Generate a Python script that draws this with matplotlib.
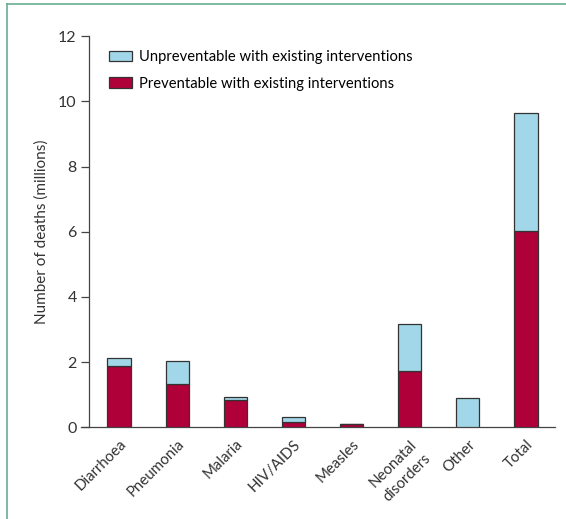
import matplotlib
matplotlib.use("Agg")
import matplotlib.pyplot as plt
from matplotlib.lines import Line2D
from matplotlib.patches import Patch
import numpy as np

CATEGORIES = ["Diarrhoea", "Pneumonia", "Malaria", "HIV/AIDS", "Measles",
              "Neonatal\ndisorders", "Other", "Total"]
PREVENTABLE = [1.88, 1.32, 0.84, 0.15, 0.11, 1.73, 0.0, 6.03]
UNPREVENTABLE = [0.25, 0.72, 0.08, 0.16, 0.0, 1.45, 0.91, 3.62]
Y_TICKS = [0, 2, 4, 6, 8, 10, 12]

RED = "#b0003a"
BLUE = "#a1d7e8"
EDGE = "#333333"
AXIS = "#444444"
FRAME = "#6aae92"

plt.rcParams["font.family"] = ["Lato", "DejaVu Sans"]

fig = plt.figure(figsize=(5.66, 5.19), dpi=100)
ax = fig.add_axes([89 / 566, 91.7 / 519, 466 / 566, 391 / 519])

x = np.arange(len(CATEGORIES))
width = 0.40
ax.bar(x, PREVENTABLE, width=width, color=RED, edgecolor=EDGE, linewidth=0.9, zorder=3)
ax.bar(x, UNPREVENTABLE, width=width, bottom=PREVENTABLE, color=BLUE,
       edgecolor=EDGE, linewidth=0.9, zorder=3)

ax.set_xlim(-0.517, 7.50)
ax.set_ylim(0, 12)
ax.set_yticks(Y_TICKS)
ax.tick_params(axis="y", direction="out", length=5.8, width=0.9, color=AXIS,
               labelsize=11.5, labelcolor="#333333", pad=3)
ax.set_xticks(x)
ax.set_xticklabels(CATEGORIES, rotation=45, ha="right", rotation_mode="anchor",
                   fontsize=10.8, color="#333333", multialignment="left",
                   linespacing=1.55)
ax.tick_params(axis="x", length=0, pad=7)

for side in ["top", "right"]:
    ax.spines[side].set_visible(False)
for side in ["left", "bottom"]:
    ax.spines[side].set_color(AXIS)
    ax.spines[side].set_linewidth(0.9)
ax.spines["bottom"].set_bounds(-0.517 - 8 / 58.1, 7.50)

ax.set_ylabel("Number of deaths (millions)", fontsize=11, color="#333333", labelpad=7)

handles = [Patch(facecolor=BLUE, edgecolor=EDGE, linewidth=0.9),
           Patch(facecolor=RED, edgecolor=EDGE, linewidth=0.9)]
ax.legend(handles, ["Unpreventable with existing interventions",
                    "Preventable with existing interventions"],
          loc="upper left", bbox_to_anchor=(0.03, 0.98), frameon=False,
          fontsize=10.6, handlelength=1.6, handleheight=0.7,
          handletextpad=0.45, labelspacing=0.85, borderaxespad=0)

# green frame on the left and top of the panel
fig.add_artist(Line2D([7.3 / 566, 7.3 / 566], [0, 1 - 4 / 519],
                      transform=fig.transFigure, color=FRAME, linewidth=1.2))
fig.add_artist(Line2D([7.3 / 566, 1], [1 - 4 / 519, 1 - 4 / 519],
                      transform=fig.transFigure, color=FRAME, linewidth=1.2))

fig.savefig("out.png", dpi=100)
